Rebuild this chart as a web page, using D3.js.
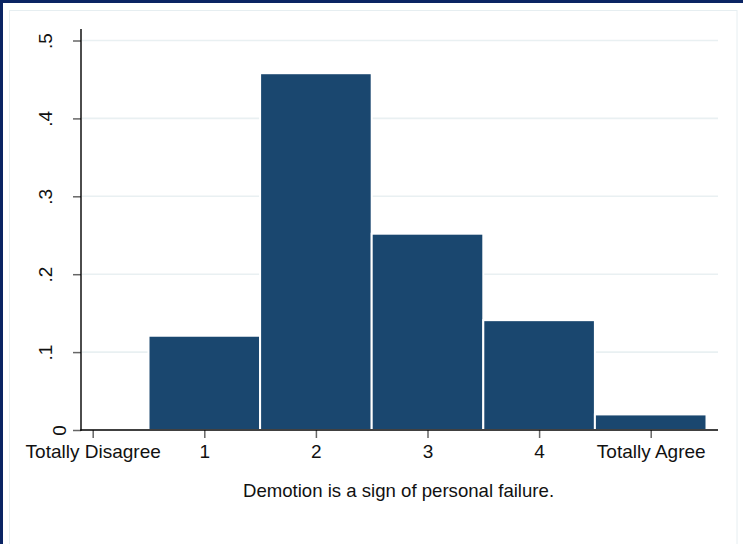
<!DOCTYPE html>
<html>
<head>
<meta charset="utf-8">
<script src="https://cdn.jsdelivr.net/npm/d3@7"></script>
<style>
  html, body { margin: 0; padding: 0; background: #fff; }
  svg { display: block; }
  text { font-family: "Liberation Sans", Arial, sans-serif; fill: #111; }
</style>
</head>
<body>
<svg id="chart" width="743" height="544"></svg>
<script>
// Response categories (scale positions) and their share of answers
const categories = [0, 1, 2, 3, 4, 5];
const fractions = [0, 0.121, 0.458, 0.252, 0.141, 0.020];
const xTickLabels = ["Totally Disagree", "1", "2", "3", "4", "Totally Agree"];
const yTicks = [0, 0.1, 0.2, 0.3, 0.4, 0.5];
const yTickLabels = ["0", ".1", ".2", ".3", ".4", ".5"];
const xTitle = "Demotion is a sign of personal failure.";

const svg = d3.select("#chart");
const W = 743, H = 544;

// outer frame: dark band on left/top, faint inner border
svg.append("rect").attr("x", 0).attr("y", 0).attr("width", W).attr("height", H).attr("fill", "#0a2463");
svg.append("rect").attr("x", 3).attr("y", 3).attr("width", W - 3).attr("height", H - 3).attr("fill", "#fff");
svg.append("rect").attr("x", 9.5).attr("y", 10.5).attr("width", 727.5).attr("height", 560)
  .attr("fill", "none").attr("stroke", "#e6eef1").attr("stroke-width", 1);

const plot = { left: 81, right: 718, top: 29, bottom: 430 };

const x = d3.scaleLinear().domain([0, 5]).range([92.7, 650.7]);
const y = d3.scaleLinear().domain([0, 0.5]).range([430, 40.5]);

// horizontal grid lines
svg.append("g").selectAll("line").data(yTicks.filter(d => d > 0)).join("line")
  .attr("x1", plot.left + 1).attr("x2", plot.right)
  .attr("y1", d => y(d)).attr("y2", d => y(d))
  .attr("stroke", "#e9f0f2").attr("stroke-width", 1.6);

// histogram bars, one unit wide, centred on each category
svg.append("g").selectAll("rect").data(categories.map((c, i) => ({ c, v: fractions[i] })).filter(d => d.v > 0)).join("rect")
  .attr("x", d => x(d.c - 0.5))
  .attr("width", d => x(d.c + 0.5) - x(d.c - 0.5))
  .attr("y", d => y(d.v))
  .attr("height", d => y(0) - y(d.v))
  .attr("fill", "#1a476f")
  .attr("stroke", "#ffffff")
  .attr("stroke-width", 2);

// y axis
const yAxis = d3.axisLeft(y).tickValues(yTicks).tickSize(8).tickFormat((d, i) => yTickLabels[i]);
const gy = svg.append("g").attr("transform", `translate(${plot.left},0)`).call(yAxis);
gy.select(".domain").remove();
gy.selectAll(".tick line").attr("stroke", "#666").attr("stroke-width", 1.5);
gy.selectAll(".tick text")
  .attr("x", null).attr("dy", null)
  .attr("text-anchor", "middle")
  .attr("font-size", 19)
  .attr("transform", (d, i) => `translate(${i === 0 ? -15 : -29},0) rotate(-90)`)
  .attr("y", 0)
  .attr("fill", "#111");

// x axis
const xAxis = d3.axisBottom(x).tickValues(categories).tickSize(8).tickFormat((d, i) => xTickLabels[i]);
const gx = svg.append("g").attr("transform", `translate(0,${plot.bottom})`).call(xAxis);
gx.select(".domain").remove();
gx.selectAll(".tick line").attr("stroke", "#666").attr("stroke-width", 1.5);
gx.selectAll(".tick text")
  .attr("y", 28.3).attr("dy", null)
  .attr("font-size", 19)
  .attr("fill", "#111");

// axis lines
svg.append("line").attr("x1", plot.left).attr("x2", plot.left).attr("y1", plot.top).attr("y2", plot.bottom + 0.7)
  .attr("stroke", "#000").attr("stroke-width", 1.4);
svg.append("line").attr("x1", plot.left - 0.7).attr("x2", plot.right).attr("y1", plot.bottom).attr("y2", plot.bottom)
  .attr("stroke", "#000").attr("stroke-width", 1.4);

// axis title
svg.append("text")
  .attr("x", (plot.left + plot.right) / 2 - 1).attr("y", 497)
  .attr("text-anchor", "middle")
  .attr("font-size", 18.6)
  .text(xTitle);

svg.selectAll("text").attr("font-family", "Liberation Sans, Arial, sans-serif");
</script>
</body>
</html>
